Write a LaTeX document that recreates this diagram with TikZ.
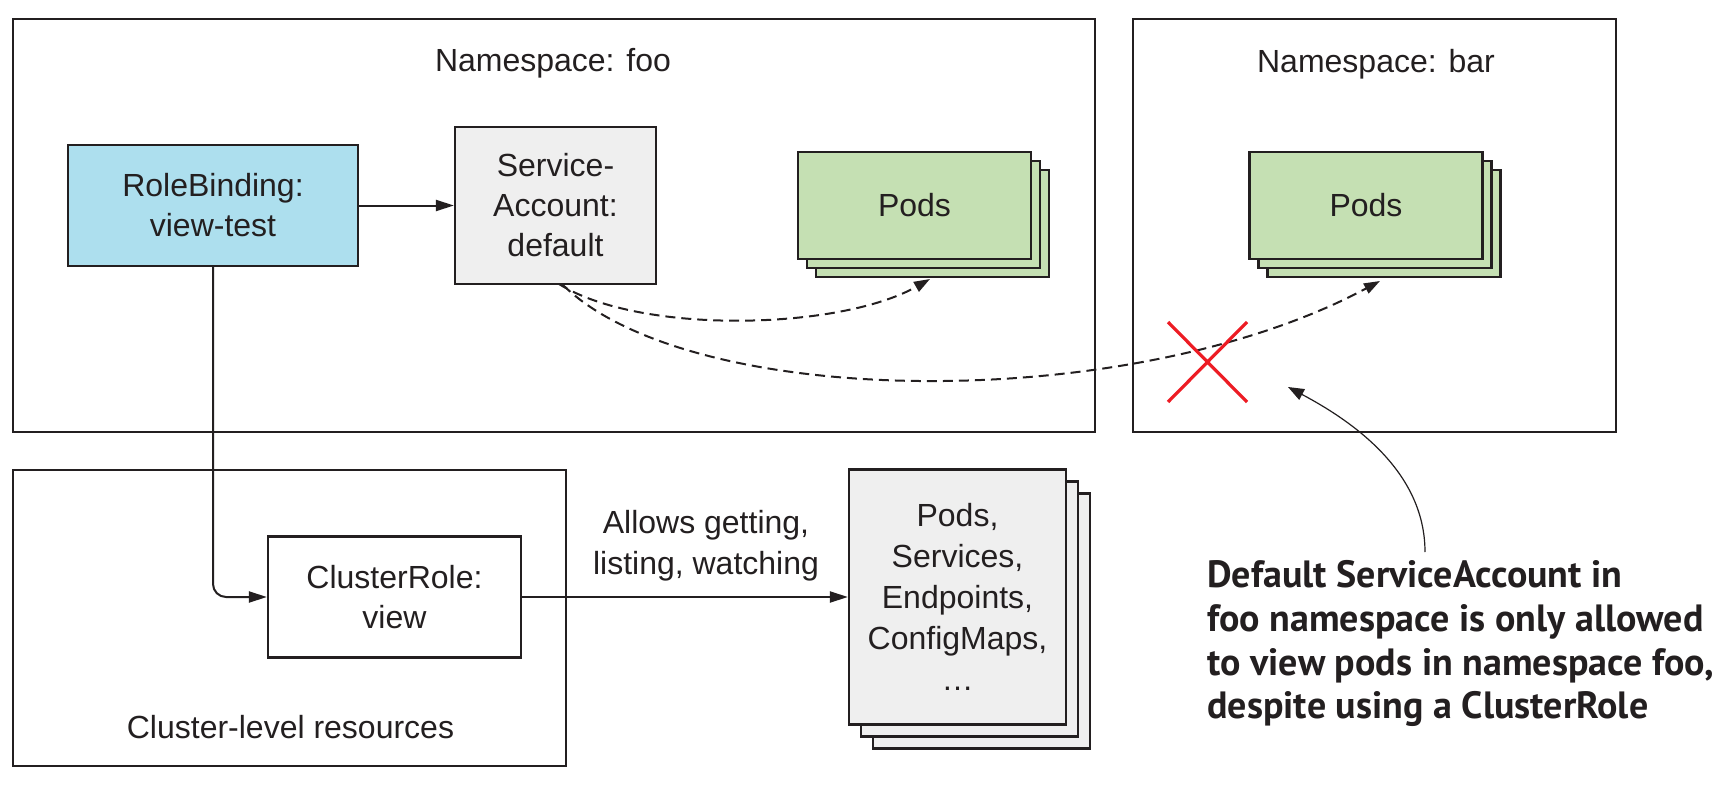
\documentclass[tikz,border=0pt]{standalone}
\usepackage{fontspec}
\setmainfont{Liberation Sans}
\newfontfamily\annfont{PT Sans Bold}
\usetikzlibrary{arrows.meta}
\definecolor{ink}{HTML}{231F20}
\definecolor{rbblue}{HTML}{ADDFEE}
\definecolor{podgreen}{HTML}{C5E0B3}
\definecolor{resgray}{HTML}{EFEFEF}
\definecolor{xred}{HTML}{ED1C24}
\begin{document}
\begin{tikzpicture}[x=0.5pt,y=-0.5pt,
  every node/.style={text=ink,font=\fontsize{16}{20}\selectfont},
  frame/.style={draw=ink,line width=1pt},
  obj/.style={draw=ink,line width=1.1pt,align=center,inner sep=0pt},
  podbox/.style={obj,fill=podgreen,minimum width=116.5pt,minimum height=53.5pt},
  resbox/.style={obj,fill=resgray,minimum width=108.5pt,minimum height=127.5pt},
  conn/.style={draw=ink,line width=1pt,-{Triangle[length=9pt,width=5.5pt]}},
  dconn/.style={draw=ink,line width=1pt,dash pattern=on 5pt off 3pt,-{Triangle[length=8pt,width=5.5pt]}}]
\useasboundingbox (0,0) rectangle (1731,787);
% frames
\draw[frame] (13,19) rectangle (1095,432);
\draw[frame] (1133,19) rectangle (1616,432);
\draw[frame] (13,470) rectangle (566,766);
\node[anchor=base] (nsfoo) at (553,71) {Namespace: foo};
\node[anchor=base] (nsbar) at (1376,72) {Namespace: bar};
\node[anchor=base] (cl) at (290.5,738) {Cluster-level resources};
% objects
\node[obj,fill=rbblue,minimum width=145pt,minimum height=60.5pt] (rb) at (213,205.5) {RoleBinding:\\view-test};
\node[obj,fill=resgray,minimum width=100.5pt,minimum height=78.5pt] (sa) at (555.5,205.5) {Service-\\Account:\\default};
% foo pods stack
\node[podbox] (pf3) at (932.5,223.5) {};
\node[podbox] (pf2) at (923.5,214.5) {};
\node[podbox] (pf) at (914.5,205.5) {Pods};
% bar pods stack
\node[podbox] (pb3) at (1384,223.5) {};
\node[podbox] (pb2) at (1375,214.5) {};
\node[podbox] (pb) at (1366,205.5) {Pods};
% cluster role
\node[obj,minimum width=126.5pt,minimum height=60.5pt] (cr) at (394.5,597) {ClusterRole:\\view};
% resources stack
\node[resbox] (rs3) at (981.5,621) {};
\node[resbox] (rs2) at (969.5,609) {};
\node[resbox,font=\fontsize{16}{20.5}\selectfont] (rs) at (957.5,597) {Pods,\\Services,\\Endpoints,\\ConfigMaps,\\\dots};
\node[align=center,font=\fontsize{16}{20.5}\selectfont] (lbl) at (706,546) {Allows getting,\\listing, watching};
% connectors
\draw[conn] (rb) -- (sa);
\draw[conn,rounded corners=6.5pt] (rb.south) |- (cr.west);
\draw[conn] (cr) -- (rs);
\coordinate (saA) at (559,284);
\coordinate (saB) at (563,285);
\coordinate (pfE) at (930,279);
\coordinate (pbE) at (1380,281);
\draw[dconn] (saA) .. controls (640,335) and (840,330) .. (pfE);
\draw[dconn] (saB) .. controls (690,410) and (1130,415) .. (pbE);
% red X
\draw[xred,line width=1.6pt] (1168,322) -- (1247,402) (1247,322) -- (1168,402);
% annotation
\node[anchor=north west,align=left,inner sep=0pt,font=\annfont\fontsize{19}{21.9}\selectfont] (ann) at (1207,560) {Default ServiceAccount in\\foo namespace is only allowed\\to view pods in namespace foo,\\despite using a ClusterRole};
\coordinate (annS) at (1425,552);
\coordinate (annT) at (1288,387);
\draw[draw=ink,line width=0.6pt,-{Triangle[length=8pt,width=6pt]}] (annS) .. controls (1425,470) and (1350,420) .. (annT);
\end{tikzpicture}
\end{document}
